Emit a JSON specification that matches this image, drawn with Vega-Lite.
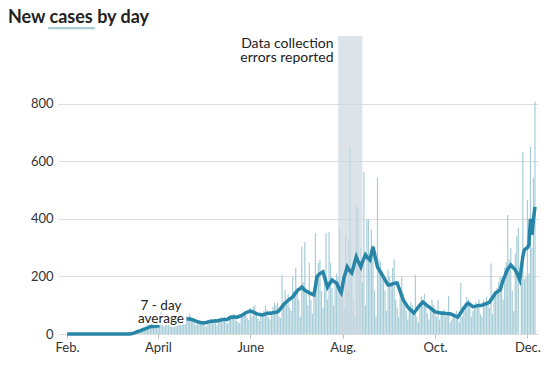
{
  "$schema": "https://vega.github.io/schema/vega-lite/v6.json",
  "width": 480,
  "height": 298,
  "autosize": {"type": "none"},
  "padding": {"left": 58, "top": 36, "right": 20, "bottom": 39},
  "background": "white",
  "title": {
    "text": "New cases by day",
    "subtitle": "\u2800\u2800\u2800\u2800━━━━━╸",
    "anchor": "start",
    "frame": "group",
    "dx": -50,
    "offset": 0,
    "font": "Lato",
    "fontSize": 18,
    "fontWeight": "bold",
    "color": "#222222",
    "subtitleFont": "DejaVu Sans Mono",
    "subtitleFontSize": 14,
    "subtitleColor": "#a6cfd8",
    "subtitlePadding": -5
  },
  "config": {
    "view": {"stroke": null},
    "axis": {"labelFont": "Lato", "labelFontSize": 13, "labelColor": "#333333", "gridColor": "#dddddd", "domain": false}
  },
  "data": {"values": [
{"date":"2020-02-01","cases":0,"avg":0},{"date":"2020-02-02","cases":0,"avg":0},{"date":"2020-02-03","cases":0,"avg":0},{"date":"2020-02-04","cases":0,"avg":0},{"date":"2020-02-05","cases":0,"avg":0},{"date":"2020-02-06","cases":0,"avg":0},{"date":"2020-02-07","cases":0,"avg":0},{"date":"2020-02-08","cases":0,"avg":0},{"date":"2020-02-09","cases":0,"avg":0},{"date":"2020-02-10","cases":0,"avg":0},{"date":"2020-02-11","cases":0,"avg":0},{"date":"2020-02-12","cases":0,"avg":0},{"date":"2020-02-13","cases":0,"avg":0},{"date":"2020-02-14","cases":0,"avg":0},{"date":"2020-02-15","cases":0,"avg":0},{"date":"2020-02-16","cases":0,"avg":0},{"date":"2020-02-17","cases":0,"avg":0},{"date":"2020-02-18","cases":0,"avg":0},{"date":"2020-02-19","cases":0,"avg":0},{"date":"2020-02-20","cases":0,"avg":0},{"date":"2020-02-21","cases":0,"avg":0},{"date":"2020-02-22","cases":0,"avg":0},{"date":"2020-02-23","cases":0,"avg":0},{"date":"2020-02-24","cases":0,"avg":0},{"date":"2020-02-25","cases":0,"avg":0},{"date":"2020-02-26","cases":0,"avg":0},{"date":"2020-02-27","cases":0,"avg":0},{"date":"2020-02-28","cases":0,"avg":0},{"date":"2020-02-29","cases":0,"avg":0},
{"date":"2020-03-01","cases":0,"avg":0},{"date":"2020-03-02","cases":0,"avg":0},{"date":"2020-03-03","cases":0,"avg":0},{"date":"2020-03-04","cases":0,"avg":0},{"date":"2020-03-05","cases":0,"avg":0},{"date":"2020-03-06","cases":0,"avg":0},{"date":"2020-03-07","cases":0,"avg":0},{"date":"2020-03-08","cases":0,"avg":0},{"date":"2020-03-09","cases":0,"avg":0},{"date":"2020-03-10","cases":1,"avg":0},{"date":"2020-03-11","cases":0,"avg":0},{"date":"2020-03-12","cases":2,"avg":0},{"date":"2020-03-13","cases":3,"avg":0},{"date":"2020-03-14","cases":5,"avg":1},{"date":"2020-03-15","cases":4,"avg":2},{"date":"2020-03-16","cases":8,"avg":3},{"date":"2020-03-17","cases":10,"avg":5},{"date":"2020-03-18","cases":12,"avg":7},{"date":"2020-03-19","cases":9,"avg":9},{"date":"2020-03-20","cases":15,"avg":11},{"date":"2020-03-21","cases":18,"avg":13},{"date":"2020-03-22","cases":14,"avg":15},{"date":"2020-03-23","cases":22,"avg":17},{"date":"2020-03-24","cases":26,"avg":19},{"date":"2020-03-25","cases":20,"avg":21},{"date":"2020-03-26","cases":30,"avg":24},{"date":"2020-03-27","cases":28,"avg":25},{"date":"2020-03-28","cases":35,"avg":27},{"date":"2020-03-29","cases":24,"avg":26},{"date":"2020-03-30","cases":32,"avg":27},{"date":"2020-03-31","cases":40,"avg":29},
{"date":"2020-04-01","cases":35,"avg":28},{"date":"2020-04-02","cases":30,"avg":29},{"date":"2020-04-03","cases":76,"avg":null},{"date":"2020-04-04","cases":42,"avg":null},{"date":"2020-04-05","cases":25,"avg":null},{"date":"2020-04-06","cases":38,"avg":null},{"date":"2020-04-07","cases":45,"avg":null},{"date":"2020-04-08","cases":50,"avg":null},{"date":"2020-04-09","cases":40,"avg":null},{"date":"2020-04-10","cases":55,"avg":null},{"date":"2020-04-11","cases":36,"avg":null},{"date":"2020-04-12","cases":28,"avg":null},{"date":"2020-04-13","cases":44,"avg":null},{"date":"2020-04-14","cases":60,"avg":null},{"date":"2020-04-15","cases":75,"avg":null},{"date":"2020-04-16","cases":48,"avg":null},{"date":"2020-04-17","cases":52,"avg":null},{"date":"2020-04-18","cases":40,"avg":null},{"date":"2020-04-19","cases":33,"avg":null},{"date":"2020-04-20","cases":62,"avg":52},{"date":"2020-04-21","cases":58,"avg":52},{"date":"2020-04-22","cases":70,"avg":53},{"date":"2020-04-23","cases":50,"avg":51},{"date":"2020-04-24","cases":55,"avg":49},{"date":"2020-04-25","cases":44,"avg":47},{"date":"2020-04-26","cases":30,"avg":45},{"date":"2020-04-27","cases":38,"avg":43},{"date":"2020-04-28","cases":42,"avg":42},{"date":"2020-04-29","cases":35,"avg":40},{"date":"2020-04-30","cases":40,"avg":39},
{"date":"2020-05-01","cases":45,"avg":38},{"date":"2020-05-02","cases":30,"avg":39},{"date":"2020-05-03","cases":25,"avg":40},{"date":"2020-05-04","cases":40,"avg":42},{"date":"2020-05-05","cases":48,"avg":43},{"date":"2020-05-06","cases":52,"avg":44},{"date":"2020-05-07","cases":44,"avg":44},{"date":"2020-05-08","cases":50,"avg":45},{"date":"2020-05-09","cases":38,"avg":46},{"date":"2020-05-10","cases":30,"avg":45},{"date":"2020-05-11","cases":46,"avg":47},{"date":"2020-05-12","cases":55,"avg":48},{"date":"2020-05-13","cases":60,"avg":49},{"date":"2020-05-14","cases":48,"avg":50},{"date":"2020-05-15","cases":52,"avg":51},{"date":"2020-05-16","cases":40,"avg":50},{"date":"2020-05-17","cases":35,"avg":52},{"date":"2020-05-18","cases":55,"avg":55},{"date":"2020-05-19","cases":62,"avg":59},{"date":"2020-05-20","cases":58,"avg":58},{"date":"2020-05-21","cases":70,"avg":60},{"date":"2020-05-22","cases":60,"avg":59},{"date":"2020-05-23","cases":45,"avg":58},{"date":"2020-05-24","cases":40,"avg":60},{"date":"2020-05-25","cases":38,"avg":62},{"date":"2020-05-26","cases":65,"avg":64},{"date":"2020-05-27","cases":72,"avg":67},{"date":"2020-05-28","cases":68,"avg":70},{"date":"2020-05-29","cases":75,"avg":74},{"date":"2020-05-30","cases":55,"avg":76},{"date":"2020-05-31","cases":48,"avg":78},
{"date":"2020-06-01","cases":90,"avg":80},{"date":"2020-06-02","cases":60,"avg":78},{"date":"2020-06-03","cases":95,"avg":76},{"date":"2020-06-04","cases":100,"avg":74},{"date":"2020-06-05","cases":70,"avg":71},{"date":"2020-06-06","cases":55,"avg":69},{"date":"2020-06-07","cases":45,"avg":68},{"date":"2020-06-08","cases":75,"avg":67},{"date":"2020-06-09","cases":65,"avg":66},{"date":"2020-06-10","cases":80,"avg":68},{"date":"2020-06-11","cases":100,"avg":70},{"date":"2020-06-12","cases":85,"avg":71},{"date":"2020-06-13","cases":60,"avg":72},{"date":"2020-06-14","cases":50,"avg":73},{"date":"2020-06-15","cases":70,"avg":72},{"date":"2020-06-16","cases":95,"avg":74},{"date":"2020-06-17","cases":108,"avg":75},{"date":"2020-06-18","cases":100,"avg":76},{"date":"2020-06-19","cases":110,"avg":77},{"date":"2020-06-20","cases":60,"avg":82},{"date":"2020-06-21","cases":55,"avg":88},{"date":"2020-06-22","cases":205,"avg":95},{"date":"2020-06-23","cases":110,"avg":102},{"date":"2020-06-24","cases":153,"avg":108},{"date":"2020-06-25","cases":120,"avg":112},{"date":"2020-06-26","cases":140,"avg":117},{"date":"2020-06-27","cases":90,"avg":121},{"date":"2020-06-28","cases":80,"avg":125},{"date":"2020-06-29","cases":198,"avg":129},{"date":"2020-06-30","cases":150,"avg":136},
{"date":"2020-07-01","cases":230,"avg":143},{"date":"2020-07-02","cases":160,"avg":150},{"date":"2020-07-03","cases":120,"avg":155},{"date":"2020-07-04","cases":60,"avg":158},{"date":"2020-07-05","cases":303,"avg":163},{"date":"2020-07-06","cases":180,"avg":158},{"date":"2020-07-07","cases":320,"avg":152},{"date":"2020-07-08","cases":140,"avg":149},{"date":"2020-07-09","cases":100,"avg":146},{"date":"2020-07-10","cases":247,"avg":143},{"date":"2020-07-11","cases":120,"avg":140},{"date":"2020-07-12","cases":70,"avg":138},{"date":"2020-07-13","cases":160,"avg":136},{"date":"2020-07-14","cases":351,"avg":165},{"date":"2020-07-15","cases":200,"avg":198},{"date":"2020-07-16","cases":247,"avg":205},{"date":"2020-07-17","cases":257,"avg":210},{"date":"2020-07-18","cases":150,"avg":213},{"date":"2020-07-19","cases":90,"avg":216},{"date":"2020-07-20","cases":200,"avg":198},{"date":"2020-07-21","cases":351,"avg":180},{"date":"2020-07-22","cases":120,"avg":163},{"date":"2020-07-23","cases":355,"avg":172},{"date":"2020-07-24","cases":247,"avg":180},{"date":"2020-07-25","cases":160,"avg":188},{"date":"2020-07-26","cases":100,"avg":184},{"date":"2020-07-27","cases":180,"avg":180},{"date":"2020-07-28","cases":210,"avg":177},{"date":"2020-07-29","cases":200,"avg":165},{"date":"2020-07-30","cases":362,"avg":152},{"date":"2020-07-31","cases":120,"avg":143},
{"date":"2020-08-01","cases":180,"avg":170},{"date":"2020-08-02","cases":90,"avg":198},{"date":"2020-08-03","cases":344,"avg":215},{"date":"2020-08-04","cases":150,"avg":233},{"date":"2020-08-05","cases":327,"avg":225},{"date":"2020-08-06","cases":650,"avg":218},{"date":"2020-08-07","cases":200,"avg":212},{"date":"2020-08-08","cases":120,"avg":230},{"date":"2020-08-09","cases":60,"avg":250},{"date":"2020-08-10","cases":449,"avg":268},{"date":"2020-08-11","cases":440,"avg":255},{"date":"2020-08-12","cases":250,"avg":244},{"date":"2020-08-13","cases":300,"avg":233},{"date":"2020-08-14","cases":180,"avg":250},{"date":"2020-08-15","cases":563,"avg":262},{"date":"2020-08-16","cases":100,"avg":275},{"date":"2020-08-17","cases":397,"avg":268},{"date":"2020-08-18","cases":400,"avg":262},{"date":"2020-08-19","cases":280,"avg":257},{"date":"2020-08-20","cases":362,"avg":280},{"date":"2020-08-21","cases":310,"avg":303},{"date":"2020-08-22","cases":150,"avg":280},{"date":"2020-08-23","cases":60,"avg":255},{"date":"2020-08-24","cases":543,"avg":233},{"date":"2020-08-25","cases":260,"avg":224},{"date":"2020-08-26","cases":250,"avg":215},{"date":"2020-08-27","cases":220,"avg":206},{"date":"2020-08-28","cases":200,"avg":198},{"date":"2020-08-29","cases":150,"avg":188},{"date":"2020-08-30","cases":80,"avg":179},{"date":"2020-08-31","cases":223,"avg":170},
{"date":"2020-09-01","cases":200,"avg":170},{"date":"2020-09-02","cases":180,"avg":172},{"date":"2020-09-03","cases":230,"avg":174},{"date":"2020-09-04","cases":260,"avg":176},{"date":"2020-09-05","cases":120,"avg":177},{"date":"2020-09-06","cases":90,"avg":177},{"date":"2020-09-07","cases":60,"avg":162},{"date":"2020-09-08","cases":150,"avg":148},{"date":"2020-09-09","cases":200,"avg":133},{"date":"2020-09-10","cases":140,"avg":118},{"date":"2020-09-11","cases":120,"avg":110},{"date":"2020-09-12","cases":80,"avg":102},{"date":"2020-09-13","cases":50,"avg":94},{"date":"2020-09-14","cases":90,"avg":88},{"date":"2020-09-15","cases":110,"avg":83},{"date":"2020-09-16","cases":100,"avg":78},{"date":"2020-09-17","cases":70,"avg":73},{"date":"2020-09-18","cases":205,"avg":80},{"date":"2020-09-19","cases":60,"avg":87},{"date":"2020-09-20","cases":40,"avg":94},{"date":"2020-09-21","cases":100,"avg":100},{"date":"2020-09-22","cases":130,"avg":106},{"date":"2020-09-23","cases":120,"avg":111},{"date":"2020-09-24","cases":140,"avg":107},{"date":"2020-09-25","cases":110,"avg":102},{"date":"2020-09-26","cases":70,"avg":98},{"date":"2020-09-27","cases":50,"avg":94},{"date":"2020-09-28","cases":90,"avg":90},{"date":"2020-09-29","cases":120,"avg":86},{"date":"2020-09-30","cases":100,"avg":81},
{"date":"2020-10-01","cases":90,"avg":77},{"date":"2020-10-02","cases":60,"avg":76},{"date":"2020-10-03","cases":118,"avg":75},{"date":"2020-10-04","cases":50,"avg":74},{"date":"2020-10-05","cases":70,"avg":73},{"date":"2020-10-06","cases":80,"avg":72},{"date":"2020-10-07","cases":85,"avg":72},{"date":"2020-10-08","cases":60,"avg":71},{"date":"2020-10-09","cases":75,"avg":71},{"date":"2020-10-10","cases":132,"avg":70},{"date":"2020-10-11","cases":40,"avg":70},{"date":"2020-10-12","cases":50,"avg":68},{"date":"2020-10-13","cases":70,"avg":66},{"date":"2020-10-14","cases":65,"avg":63},{"date":"2020-10-15","cases":80,"avg":61},{"date":"2020-10-16","cases":55,"avg":59},{"date":"2020-10-17","cases":40,"avg":66},{"date":"2020-10-18","cases":177,"avg":74},{"date":"2020-10-19","cases":60,"avg":82},{"date":"2020-10-20","cases":90,"avg":90},{"date":"2020-10-21","cases":110,"avg":97},{"date":"2020-10-22","cases":129,"avg":103},{"date":"2020-10-23","cases":120,"avg":107},{"date":"2020-10-24","cases":100,"avg":103},{"date":"2020-10-25","cases":60,"avg":99},{"date":"2020-10-26","cases":80,"avg":95},{"date":"2020-10-27","cases":100,"avg":96},{"date":"2020-10-28","cases":110,"avg":97},{"date":"2020-10-29","cases":90,"avg":98},{"date":"2020-10-30","cases":120,"avg":99},{"date":"2020-10-31","cases":70,"avg":99},
{"date":"2020-11-01","cases":60,"avg":100},{"date":"2020-11-02","cases":120,"avg":102},{"date":"2020-11-03","cases":100,"avg":104},{"date":"2020-11-04","cases":130,"avg":106},{"date":"2020-11-05","cases":110,"avg":108},{"date":"2020-11-06","cases":90,"avg":111},{"date":"2020-11-07","cases":246,"avg":119},{"date":"2020-11-08","cases":70,"avg":127},{"date":"2020-11-09","cases":140,"avg":135},{"date":"2020-11-10","cases":150,"avg":143},{"date":"2020-11-11","cases":160,"avg":146},{"date":"2020-11-12","cases":180,"avg":150},{"date":"2020-11-13","cases":200,"avg":153},{"date":"2020-11-14","cases":170,"avg":170},{"date":"2020-11-15","cases":120,"avg":188},{"date":"2020-11-16","cases":230,"avg":200},{"date":"2020-11-17","cases":250,"avg":213},{"date":"2020-11-18","cases":414,"avg":226},{"date":"2020-11-19","cases":260,"avg":233},{"date":"2020-11-20","cases":300,"avg":240},{"date":"2020-11-21","cases":150,"avg":234},{"date":"2020-11-22","cases":80,"avg":229},{"date":"2020-11-23","cases":280,"avg":223},{"date":"2020-11-24","cases":340,"avg":212},{"date":"2020-11-25","cases":369,"avg":200},{"date":"2020-11-26","cases":0,"avg":188},{"date":"2020-11-27","cases":180,"avg":230},{"date":"2020-11-28","cases":633,"avg":270},{"date":"2020-11-29","cases":190,"avg":292},{"date":"2020-11-30","cases":200,"avg":297},
{"date":"2020-12-01","cases":466,"avg":300},{"date":"2020-12-02","cases":210,"avg":310},{"date":"2020-12-03","cases":650,"avg":400},{"date":"2020-12-04","cases":300,"avg":345},{"date":"2020-12-05","cases":543,"avg":400},{"date":"2020-12-06","cases":807,"avg":442}
  ]},
  "encoding": {
    "x": {
      "field": "date",
      "type": "temporal",
      "scale": {"type": "utc", "padding": 0, "domain": [{"year": 2020, "month": 1, "date": 26, "utc": true}, {"year": 2020, "month": 12, "date": 8, "utc": true}]},
      "axis": {
        "title": null,
        "grid": false,
        "values": [
          {"year": 2020, "month": 2, "date": 1, "utc": true},
          {"year": 2020, "month": 4, "date": 1, "utc": true},
          {"year": 2020, "month": 6, "date": 1, "utc": true},
          {"year": 2020, "month": 8, "date": 1, "utc": true},
          {"year": 2020, "month": 10, "date": 1, "utc": true},
          {"year": 2020, "month": 12, "date": 1, "utc": true}
        ],
        "labelExpr": "['Jan.','Feb.','March','April','May','June','July','Aug.','Sept.','Oct.','Nov.','Dec.'][utcmonth(datum.value)]",
        "ticks": true,
        "tickSize": 4,
        "tickColor": "#bbbbbb",
        "labelPadding": 3,
        "labelFlush": false
      }
    }
  },
  "layer": [
    {
      "mark": {"type": "bar", "width": 1.2, "color": "#a6cdd8"},
      "encoding": {
        "y": {
          "field": "cases",
          "type": "quantitative",
          "scale": {"domain": [0, 1036], "nice": false},
          "axis": {"title": null, "values": [0, 200, 400, 600, 800], "ticks": false, "labelPadding": 5, "grid": true}
        }
      }
    },
    {
      "data": {"values": [{"start": "2020-07-29", "end": "2020-08-14"}]},
      "mark": {"type": "rect", "color": "#cdd8e1", "opacity": 0.7},
      "encoding": {
        "x": {"field": "start", "type": "temporal"},
        "x2": {"field": "end"}
      }
    },
    {
      "mark": {"type": "line", "color": "#2785a7", "strokeWidth": 3.5, "invalid": "break-paths-show-domains"},
      "encoding": {
        "y": {"field": "avg", "type": "quantitative"}
      }
    },
    {
      "data": {"values": [{"date": "2020-07-26", "value": 995, "label": "Data collection\nerrors reported"}]},
      "mark": {"type": "text", "align": "right", "baseline": "alphabetic", "lineBreak": "\n", "lineHeight": 14, "font": "Lato", "fontSize": 14, "color": "#222222"},
      "encoding": {
        "x": {"field": "date", "type": "temporal"},
        "y": {"field": "value", "type": "quantitative"},
        "text": {"field": "label"}
      }
    },
    {
      "data": {"values": [{"date": "2020-04-03", "value": 83, "label": "7 - day\naverage"}]},
      "mark": {"type": "text", "align": "center", "baseline": "alphabetic", "lineBreak": "\n", "lineHeight": 13, "font": "Lato", "fontSize": 13.5, "color": "white", "stroke": "white", "strokeWidth": 4},
      "encoding": {
        "x": {"field": "date", "type": "temporal"},
        "y": {"field": "value", "type": "quantitative"},
        "text": {"field": "label"}
      }
    },
    {
      "data": {"values": [{"date": "2020-04-03", "value": 83, "label": "7 - day\naverage"}]},
      "mark": {"type": "text", "align": "center", "baseline": "alphabetic", "lineBreak": "\n", "lineHeight": 13, "font": "Lato", "fontSize": 13.5, "color": "#222222"},
      "encoding": {
        "x": {"field": "date", "type": "temporal"},
        "y": {"field": "value", "type": "quantitative"},
        "text": {"field": "label"}
      }
    }
  ]
}
